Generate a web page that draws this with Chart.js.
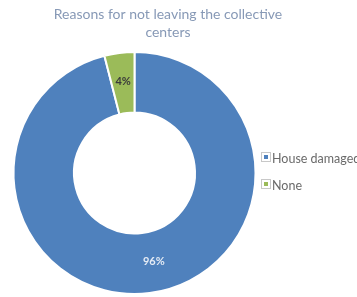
<!DOCTYPE html>
<html><head><meta charset="utf-8">
<script src="https://cdn.jsdelivr.net/npm/chart.js@4/dist/chart.umd.min.js"></script>
<style>html,body{margin:0;padding:0;background:#fff}#wrap{width:357px;height:297px}</style>
</head><body><div id="wrap"><canvas id="c" width="357" height="297"></canvas></div>
<script>
const titleLines = ["Reasons for not leaving the collective", "centers"];
const categories = ["House damaged", "None"];
const values = [96, 4];
const labels = ["96%", "4%"];
const colors = ["#4F81BD", "#9BBB59"];
const labelColors = ["#E6ECF5", "#3A3A3A"];

const overlay = {
  id: 'overlay',
  afterDraw(chart) {
    const ctx = chart.ctx;
    ctx.save();
    // title
    ctx.fillStyle = '#8799B6';
    ctx.font = '14px Lato';
    ctx.textAlign = 'center';
    ctx.textBaseline = 'middle';
    ctx.fillText(titleLines[0], 168, 14);
    ctx.fillText(titleLines[1], 168, 32);
    // data labels
    const meta = chart.getDatasetMeta(0);
    ctx.font = 'bold 11px Lato';
    meta.data.forEach((arc, i) => {
      const p = arc.tooltipPosition();
      ctx.fillStyle = labelColors[i];
      const dx = i === 0 ? 8 : 0;
      ctx.fillText(labels[i], p.x + dx, p.y - 2);
    });
    // legend
    const ly = [158, 185];
    ctx.textAlign = 'left';
    ctx.font = '12.5px Lato';
    categories.forEach((c, i) => {
      ctx.strokeStyle = '#C8C8C8';
      ctx.lineWidth = 1;
      ctx.strokeRect(261.5, ly[i] - 5.5, 9, 9);
      ctx.fillStyle = colors[i];
      ctx.fillRect(264, ly[i] - 3, 4, 4);
      ctx.fillStyle = '#6A6A6A';
      ctx.fillText(c, 272, ly[i] + 1);
    });
    ctx.restore();
  }
};

new Chart(document.getElementById('c'), {
  type: 'doughnut',
  data: {
    labels: categories,
    datasets: [{
      data: values,
      backgroundColor: colors,
      borderColor: '#ffffff',
      borderWidth: 2
    }]
  },
  options: {
    responsive: false,
    animation: false,
    cutout: '50%',
    layout: { padding: { top: 51, bottom: 2, left: 12, right: 100 } },
    plugins: { legend: { display: false }, tooltip: { enabled: false }, title: { display: false } }
  },
  plugins: [overlay]
});
</script></body></html>
